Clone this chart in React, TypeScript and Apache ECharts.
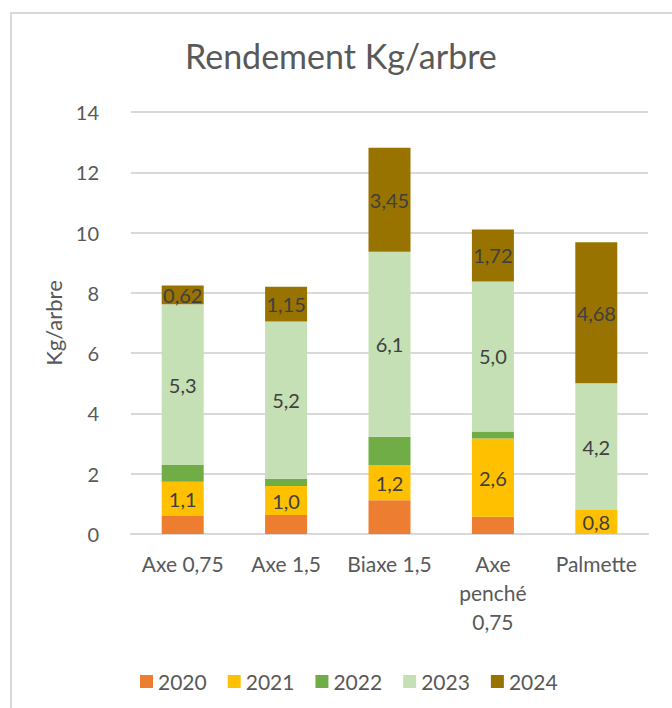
import React, { useEffect, useRef } from "react";
import * as echarts from "echarts";

const categories = ["Axe 0,75", "Axe 1,5", "Biaxe 1,5", "Axe\npenché\n0,75", "Palmette"];
const years = ["2020", "2021", "2022", "2023", "2024"];
const values2020 = [0.6, 0.63, 1.12, 0.57, 0];
const values2021 = [1.13, 0.96, 1.16, 2.6, 0.8];
const values2022 = [0.56, 0.24, 0.95, 0.23, 0];
const values2023 = [5.33, 5.22, 6.13, 4.98, 4.2];
const values2024 = [0.62, 1.15, 3.45, 1.72, 4.68];
const yTicks = { min: 0, max: 14, interval: 2 };

const seriesValues = [values2020, values2021, values2022, values2023, values2024];
const colors = ["#ED7D31", "#FFC000", "#70AD47", "#C5E0B4", "#997300"];
const labelDecimals: (number | null)[] = [null, 1, null, 1, 2];

const FONT = "Lato, 'Noto Sans', sans-serif";

export default function App() {
  const ref = useRef<HTMLDivElement>(null);
  useEffect(() => {
    if (!ref.current) return;
    const chart = echarts.init(ref.current, null, { renderer: "svg" });
    chart.setOption({
      animation: false,
      backgroundColor: "#ffffff",
      textStyle: { fontFamily: FONT },
      title: {
        text: "Rendement Kg/arbre",
        left: 180,
        top: 33,
        textStyle: { fontFamily: FONT, fontSize: 34, fontWeight: "normal", color: "#595959" },
      },
      graphic: [
        {
          type: "rect",
          shape: { x: 11, y: 13, width: 700, height: 720 },
          style: { fill: "none", stroke: "#d9d9d9", lineWidth: 2 },
          silent: true,
        },
      ],
      legend: {
        data: years,
        left: 135,
        top: 666,
        itemWidth: 13,
        itemHeight: 13,
        itemGap: 21,
        icon: "rect",
        textStyle: { fontFamily: FONT, fontSize: 21, color: "#595959" },
      },
      grid: { left: 131, right: 24, top: 112, bottom: 174, containLabel: false },
      xAxis: {
        type: "category",
        data: categories,
        axisLine: { show: true, lineStyle: { color: "#d9d9d9", width: 2 } },
        axisTick: { show: false },
        axisLabel: {
          fontFamily: FONT,
          fontSize: 21,
          color: "#595959",
          margin: 15,
          lineHeight: 29,
          interval: 0,
        },
      },
      yAxis: {
        type: "value",
        min: yTicks.min,
        max: yTicks.max,
        interval: yTicks.interval,
        name: "Kg/arbre",
        nameLocation: "middle",
        nameGap: 43,
        nameTextStyle: { fontFamily: FONT, fontSize: 22, color: "#595959" },
        axisLine: { show: false },
        axisTick: { show: false },
        splitLine: { lineStyle: { color: "#d9d9d9", width: 2 } },
        axisLabel: { fontFamily: FONT, fontSize: 20, color: "#595959", margin: 32 },
      },
      series: years.map((y, i) => ({
        name: y,
        type: "bar",
        stack: "total",
        barWidth: 42,
        data: seriesValues[i],
        itemStyle: { color: colors[i] },
        label: {
          show: labelDecimals[i] !== null,
          position: "inside",
          fontFamily: FONT,
          fontSize: 20,
          color: "#404040",
          formatter: (p: any) =>
            labelDecimals[i] === null ? "" : Number(p.value).toFixed(labelDecimals[i] as number).replace(".", ","),
        },
      })),
    });
    return () => chart.dispose();
  }, []);
  return (
    <div
      ref={ref}
      style={{ position: "fixed", left: 0, top: 0, width: 672, height: 708 }}
    />
  );
}
